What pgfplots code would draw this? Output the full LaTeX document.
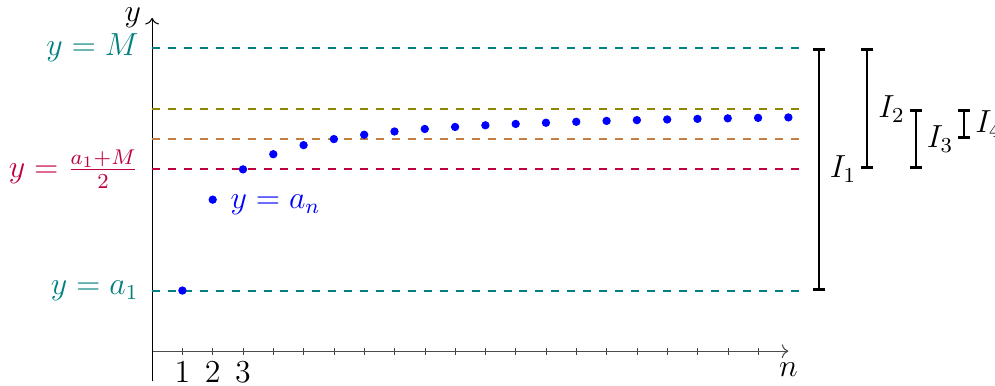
\documentclass[12pt,border=0pt]{standalone}
\usepackage{pgfplots}
\pgfplotsset{compat=1.18}
\usetikzlibrary{arrows.meta}
\begin{document}
\begin{tikzpicture}
\begin{axis}[
  x=0.4cm, y=0.4cm,
  axis lines=middle,
  xmin=0, xmax=21, ymin=-1, ymax=11,
  enlargelimits=false,
  clip=false,
  axis line style={->},
  x axis line style={black!70},
  y axis line style={black},
  xtick={1,...,20},
  xticklabels={1,2,3},
  ytick=\empty,
  tick align=center,
  major tick length=2.6pt,
  xtick style={black!75},
  xticklabel style={black, yshift=1.8pt},
]
% horizontal reference levels (shifted so that the n-axis is at 0: a1=2, M=10)
\addplot[teal, thick, dashed] coordinates {(0,10) (21.4,10)};
\addplot[olive, thick, dashed] coordinates {(0,8) (21.4,8)};
\addplot[brown, thick, dashed] coordinates {(0,7) (21.4,7)};
\addplot[purple, thick, dashed] coordinates {(0,6) (21.4,6)};
\addplot[teal, thick, dashed] coordinates {(0,2) (21.4,2)};
% intervals
\addplot[black, thick, {Bar[width=4.5pt,line width=1.1pt]}-{Bar[width=4.5pt,line width=1.1pt]}] coordinates {(22,2) (22,10)};
\addplot[black, thick, {Bar[width=4.5pt,line width=1.1pt]}-{Bar[width=4.5pt,line width=1.1pt]}] coordinates {(23.6,6) (23.6,10)};
\addplot[black, thick, {Bar[width=4.5pt,line width=1.1pt]}-{Bar[width=4.5pt,line width=1.1pt]}] coordinates {(25.2,6) (25.2,8)};
\addplot[black, thick, {Bar[width=4.5pt,line width=1.1pt]}-{Bar[width=4.5pt,line width=1.1pt]}] coordinates {(26.8,7) (26.8,8)};
% sequence
\addplot[only marks, mark=*, blue, mark size=1.35pt] coordinates {
(1,2) (2,5) (3,6) (4,6.5) (5,6.8) (6,7) (7,7.1429) (8,7.25) (9,7.3333)
(10,7.4) (11,7.4545) (12,7.5) (13,7.5385) (14,7.5714) (15,7.6) (16,7.625)
(17,7.6471) (18,7.6667) (19,7.6842) (20,7.7) (21,7.7143)};
% labels
\node[left, teal] at (axis cs:-0.08,10) {$y = M$};
\node[left, purple] at (axis cs:-0.08,6) {$y = \frac{a_1+M}{2}$};
\node[left, teal] at (axis cs:-0.08,2) {$y = a_1$};
\node[anchor=west, blue, xshift=2.5pt, yshift=-2pt] at (axis cs:2,5) {$y = a_n$};
\node[left] at (axis cs:0,11) {$y$};
\node[below] at (axis cs:21,0) {$n$};
\node[right] at (axis cs:22,6) {$I_1$};
\node[right] at (axis cs:23.6,8) {$I_2$};
\node[right] at (axis cs:25.2,7) {$I_3$};
\node[right] at (axis cs:26.8,7.5) {$I_4$};
\coordinate (bl) at (axis cs:-5.02,-1.14);
\coordinate (tr) at (axis cs:27.82,11.59);
\end{axis}
\pgfresetboundingbox
\path[use as bounding box] (bl) rectangle (tr);
\end{tikzpicture}
\end{document}
